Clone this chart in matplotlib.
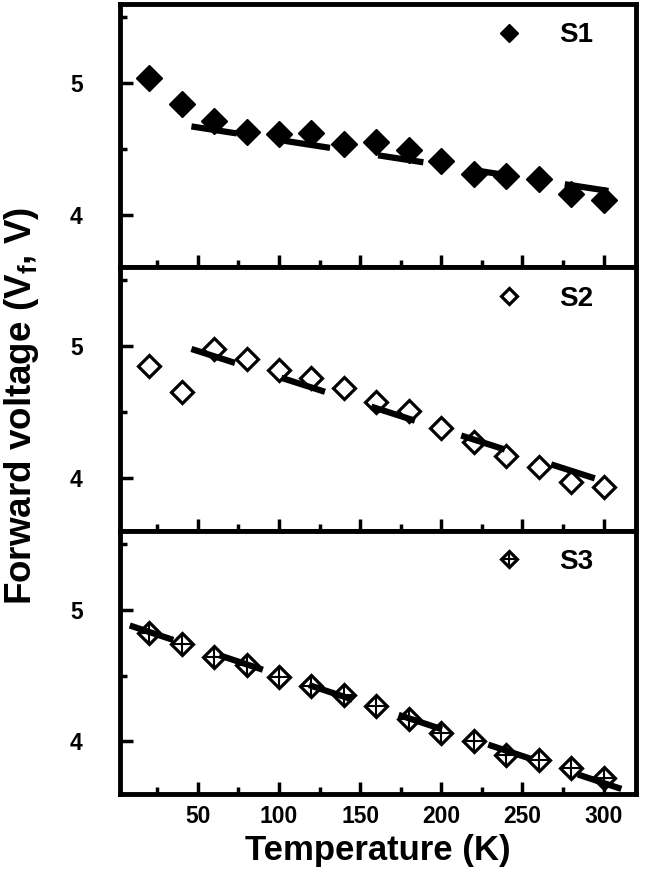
#Forward voltage vs temperature for three samples, stacked panels

import numpy as np
import matplotlib.pyplot as plt
from matplotlib.ticker import MultipleLocator

plt.rcParams['font.family'] = ['Liberation Sans', 'DejaVu Sans']
plt.rcParams['font.weight'] = 'bold'
plt.rcParams['mathtext.fontset'] = 'custom'
plt.rcParams['mathtext.rm'] = 'Liberation Sans:bold'
plt.rcParams['mathtext.it'] = 'Liberation Sans:bold'
plt.rcParams['mathtext.default'] = 'rm'
plt.rcParams['lines.scale_dashes'] = False

#Given data
T = [20, 40, 60, 80, 100, 120, 140, 160, 180, 200, 220, 240, 260, 280, 300]
V_s1 = [5.04, 4.84, 4.71, 4.63, 4.61, 4.62, 4.54, 4.55, 4.49, 4.41, 4.31, 4.29, 4.27, 4.16, 4.11]
V_s2 = [4.85, 4.65, 4.98, 4.90, 4.82, 4.76, 4.68, 4.58, 4.51, 4.38, 4.27, 4.17, 4.08, 3.97, 3.93]
V_s3 = [4.82, 4.74, 4.64, 4.58, 4.49, 4.42, 4.35, 4.27, 4.17, 4.06, 4.00, 3.90, 3.86, 3.80, 3.72]

#linear fit end points
fit_T_s1 = [46, 303]
fit_V_s1 = [4.67, 4.18]
fit_T_s2 = [46, 304]
fit_V_s2 = [4.98, 3.96]
fit_T_s3 = [8, 318]
fit_V_s3 = [4.88, 3.61]

labels = ['S1', 'S2', 'S3']

fig, axes = plt.subplots(3, 1, sharex=True, figsize=(6.47, 8.8), dpi=100)
plt.subplots_adjust(left=0.1855, right=0.983, top=0.9955, bottom=0.0977, hspace=0)

dash = (0, (33, 35))
fit_kw = dict(color='black', linewidth=4.5, linestyle=dash, zorder=4)
leg_kw = dict(loc='upper right', bbox_to_anchor=(0.965, 1.025), frameon=False,
              fontsize=20, markerscale=0.74)

##S1 : filled diamonds
ax = axes[0]
h1, = ax.plot(T, V_s1, linestyle='none', marker='D', markersize=13,
              markerfacecolor='black', markeredgecolor='black', markeredgewidth=1, zorder=3)
ax.plot(fit_T_s1, fit_V_s1, **fit_kw)
ax.legend([h1], [labels[0]], **leg_kw)

##S2 : open diamonds
ax = axes[1]
h2, = ax.plot(T, V_s2, linestyle='none', marker='D', markersize=11.5,
              markerfacecolor='white', markeredgecolor='black', markeredgewidth=2.3, zorder=3)
ax.plot(fit_T_s2, fit_V_s2, **fit_kw)
ax.legend([h2], [labels[1]], **leg_kw)

##S3 : open diamonds with a cross
ax = axes[2]
h3a, = ax.plot(T, V_s3, linestyle='none', marker='D', markersize=11.5,
               markerfacecolor='white', markeredgecolor='black', markeredgewidth=2.3, zorder=3)
h3b, = ax.plot(T, V_s3, linestyle='none', marker='+', markersize=15,
               markeredgecolor='black', markeredgewidth=1.5, zorder=3)
ax.plot(fit_T_s3, fit_V_s3, **fit_kw)
ax.legend([(h3a, h3b)], [labels[2]], **leg_kw)

for ax in axes:
    ax.set_xlim(2, 320)
    ax.set_ylim(3.6, 5.6)
    ax.xaxis.set_major_locator(MultipleLocator(50))
    ax.xaxis.set_minor_locator(MultipleLocator(25))
    ax.yaxis.set_major_locator(MultipleLocator(1))
    ax.yaxis.set_minor_locator(MultipleLocator(0.5))
    ax.tick_params(which='both', direction='in', top=False, right=False, width=2.5)
    ax.tick_params(which='major', length=9, labelsize=16.5)
    ax.tick_params(which='minor', length=5)
    ax.tick_params(axis='y', pad=27)
    ax.tick_params(axis='x', pad=8)
    for s in ax.spines.values():
        s.set_linewidth(3.5)

axes[2].set_xlabel('Temperature (K)', fontsize=25, fontweight='bold', labelpad=4)
fig.text(22/647, 1-406/880, 'Forward voltage (V$_f$, V)', rotation=90,
         ha='center', va='center', fontsize=26.5, fontweight='bold')

plt.savefig('out.png', dpi=100)
